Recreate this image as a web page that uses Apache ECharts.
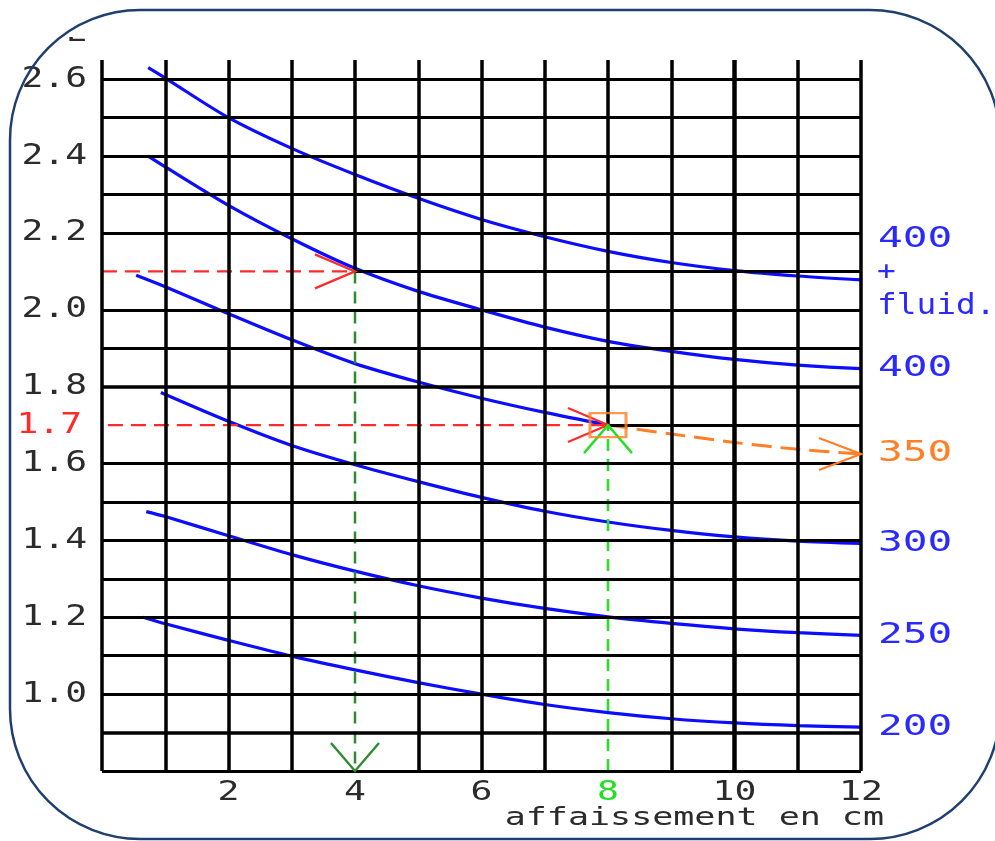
<!DOCTYPE html>
<html>
<head>
<meta charset="utf-8">
<script src="https://cdn.jsdelivr.net/npm/echarts@6/dist/echarts.min.js"></script>
<style>
html,body{margin:0;padding:0;background:#fff;}
#main{width:995px;height:841px;}
</style>
</head>
<body>
<div id="main"></div>
<script>
// ---- data ----
const xMin = 0, xMax = 12;
const yMin = 0.8, yMax = 2.65;
const gridXs = [0,1,2,3,4,5,6,7,8,9,10,11,12];
const gridYs = [0.8,0.9,1.0,1.1,1.2,1.3,1.4,1.5,1.6,1.7,1.8,1.9,2.0,2.1,2.2,2.3,2.4,2.5,2.6];
const xTickLabels = ['2','4','6','8','10','12'];
const yTickLabels = ['1.0','1.2','1.4','1.6','1.8','2.0','2.2','2.4','2.6'];
const xTitle = 'affaissement en cm';

const c400fX = [0.73,1,2,3,4,5,6,7,8,9,10,11,12];
const c400fY = [2.63,2.603,2.50,2.42,2.352,2.29,2.235,2.19,2.152,2.123,2.102,2.088,2.078];
const c400X  = [0.73,1,2,3,4,5,6,7,8,9,10,11,12];
const c400Y  = [2.40,2.372,2.272,2.185,2.108,2.048,2.0,1.955,1.918,1.892,1.871,1.856,1.847];
const c350X  = [0.54,1,2,3,4,5,6,7,8];
const c350Y  = [2.09,2.06,1.99,1.922,1.86,1.812,1.77,1.733,1.70];
const c350ExtX = [8,9,10,11,12];
const c350ExtY = [1.70,1.677,1.655,1.637,1.625];
const c300X  = [0.93,2,3,4,5,6,7,8,9,10,11,12];
const c300Y  = [1.785,1.71,1.647,1.597,1.553,1.512,1.476,1.448,1.426,1.409,1.398,1.392];
const c250X  = [0.7,1,2,3,4,5,6,7,8,9,10,11,12];
const c250Y  = [1.475,1.462,1.412,1.363,1.32,1.282,1.25,1.223,1.201,1.184,1.17,1.16,1.153];
const c200X  = [0.65,1,2,3,4,5,6,7,8,9,10,11,12];
const c200Y  = [1.20,1.183,1.14,1.099,1.063,1.03,1.0,0.973,0.952,0.936,0.925,0.918,0.914];

// reading example: read 2.1 at 4 cm, and 1.7 at 8 cm
const readA = [4, 2.1];   // red horizontal -> dark green down
const readB = [8, 1.7];   // bright green up -> red horizontal
const redStartB = -0.27;  // red dashed line at 1.7 starts left of axis
const curveLabels = ['400', '400', '350', '300', '250', '200'];

function zip(a, b){ return a.map((v,i)=>[v,b[i]]); }

// ---- grid lines as markLines ----
const gridLines = [];
gridXs.forEach(x => {
  let y0 = yMin;
  if (x === readA[0]) y0 = readA[1];
  if (x === readB[0]) y0 = readB[1];
  gridLines.push([{coord:[x,y0], lineStyle:{width: x===10 ? 4.5 : 3.5}}, {coord:[x,yMax]}]);
});
gridYs.forEach(y => {
  let x0 = xMin;
  if (Math.abs(y-readA[1])<1e-9) x0 = readA[0];
  if (Math.abs(y-readB[1])<1e-9) x0 = readB[0];
  gridLines.push([{coord:[x0,y], lineStyle:{width:(Math.abs(y-1.8)<1e-9||Math.abs(y-0.9)<1e-9)?3.6:3}}, {coord:[xMax,y]}]);
});

const BLUE = '#0c0cff', RED = '#ff2a2a', ORANGE = '#ff7f27', DGREEN = '#2e8b2e', LGREEN = '#22e022', TXT = '#2b2b2b';

function blue(name, xs, ys){
  return {type:'line', name, data: zip(xs,ys), smooth:0.3, showSymbol:false, z:3,
    lineStyle:{color:BLUE, width:3.2}, silent:true};
}
function arrow(len, half, color, width){
  return function(params, api){
    const p = api.coord([api.value(0), api.value(1)]);
    const a = api.value(2)*Math.PI/180;
    const ux = Math.cos(a), uy = Math.sin(a), nx = -uy, ny = ux;
    return {type:'polyline', shape:{points:[
      [p[0]-ux*len+nx*half, p[1]-uy*len+ny*half], p,
      [p[0]-ux*len-nx*half, p[1]-uy*len-ny*half]]},
      style:{stroke:color, lineWidth:width, fill:null}};
  };
}

const chart = echarts.init(document.getElementById('main'), null, {renderer:'canvas'});
chart.setOption({
  animation:false,
  backgroundColor:'#ffffff',
  grid:{left:102, top:60, width:759, height:711},
  xAxis:{type:'value', min:xMin, max:xMax, axisLine:{show:false}, axisTick:{show:false}, axisLabel:{show:false}, splitLine:{show:false}},
  yAxis:{type:'value', min:yMin, max:yMax, axisLine:{show:false}, axisTick:{show:false}, axisLabel:{show:false}, splitLine:{show:false}},
  series:[
    {type:'line', data:[[xMin,yMin]], showSymbol:false, lineStyle:{opacity:0}, clip:false, z:1, silent:true,
     markLine:{silent:true, symbol:['none','none'], label:{show:false}, lineStyle:{color:'#000', type:'solid', width:3}, data:gridLines}},
    blue('400 + fluid.', c400fX, c400fY),
    blue('400', c400X, c400Y),
    blue('350', c350X, c350Y),
    blue('300', c300X, c300Y),
    blue('250', c250X, c250Y),
    blue('200', c200X, c200Y),
    {type:'line', data:[[xMin,readA[1]],readA], showSymbol:false, z:4, clip:false, silent:true,
     lineStyle:{color:RED, width:2.2, type:[15,8]}},
    {type:'line', data:[[redStartB,readB[1]],readB], showSymbol:false, z:4, clip:false, silent:true,
     lineStyle:{color:RED, width:2.2, type:[15,8]}},
    {type:'line', data:[readA,[readA[0],yMin]], showSymbol:false, z:4, silent:true,
     lineStyle:{color:DGREEN, width:2.5, type:[12,8]}},
    {type:'line', data:[[readB[0],yMin],readB], showSymbol:false, z:4, silent:true,
     lineStyle:{color:LGREEN, width:2.5, type:[12,8]}},
    {type:'line', data:zip(c350ExtX,c350ExtY), smooth:0.3, showSymbol:false, z:4, silent:true,
     lineStyle:{color:ORANGE, width:3, type:[20,9]}},
    {type:'custom', renderItem:arrow(40,17,RED,2.2), clip:false, z:5, silent:true,
     data:[[readA[0],readA[1],0],[readB[0],readB[1],0]]},
    {type:'custom', renderItem:arrow(28,24,DGREEN,2.4), clip:false, z:5, silent:true,
     data:[[readA[0],yMin,90]]},
    {type:'custom', renderItem:arrow(28,24,LGREEN,2.4), clip:false, z:5, silent:true,
     data:[[readB[0],readB[1],-90]]},
    {type:'custom', renderItem:arrow(42,16,ORANGE,2.2), clip:false, z:5, silent:true,
     data:[[c350ExtX[c350ExtX.length-1], c350ExtY[c350ExtY.length-1], 0]]},
    {type:'scatter', data:[readB], symbol:'rect', symbolSize:[36,24], z:6, silent:true,
     itemStyle:{color:'rgba(255,255,255,0)', borderColor:ORANGE, borderWidth:2.5}}
  ]
});

// ---- texts positioned through the axes ----
const px = v => chart.convertToPixel({gridIndex:0}, v);
const FONT = '"DejaVu Sans Mono", monospace';
function txt(x, y, text, color, size, sx, align){
  return {type:'text', x, y, scaleX:sx, z:20, silent:true,
    style:{text, fill:color, font:size+'px '+FONT, textAlign:align||'left', textVerticalAlign:'middle'}};
}
const g = [];
const axisX = px([xMin, yMin])[0];
yTickLabels.forEach(t => { const p = px([xMin, parseFloat(t)]); g.push(txt(axisX-15, p[1], t, TXT, 29, 1.25, 'right')); });
g.push(txt(axisX-20, px([xMin, readB[1]])[1], String(readB[1]), RED, 29, 1.25, 'right'));
xTickLabels.forEach(t => { const p = px([parseFloat(t), yMin]); g.push(txt(p[0], p[1]+22, t, parseFloat(t)===readB[0]?LGREEN:TXT, 27, 1.35, 'center')); });
const xEnd = px([xMax, yMin]);
g.push(txt(xEnd[0]+23, xEnd[1]+47, xTitle, TXT, 25, 1.4, 'right'));

const ends = [[c400fX,c400fY],[c400X,c400Y],[c350ExtX,c350ExtY],[c300X,c300Y],[c250X,c250Y],[c200X,c200Y]];
ends.forEach((e,i) => {
  const n = e[0].length-1;
  const p = px([e[0][n], e[1][n]]);
  const col = i===2 ? ORANGE : '#2a2aff';
  if (i===0){
    g.push(txt(p[0]+17, p[1]-40, curveLabels[i], col, 29, 1.42, 'left'));
    g.push(txt(p[0]+16, p[1]-8, '+', col, 26, 1.2, 'left'));
    g.push(txt(p[0]+16, p[1]+27, 'fluid.', col, 29, 1.13, 'left'));
  } else {
    g.push(txt(p[0]+17, p[1], curveLabels[i], col, 29, 1.42, 'left'));
  }
});
// clipped letter at top of y axis
g.push(txt(66, 34, 'E', TXT, 27, 1.3, 'left'));
g.push({type:'rect', shape:{x:40, y:0, width:60, height:37}, style:{fill:'#fff'}, z:21, silent:true});
// rounded frame
g.push({type:'rect', shape:{x:10, y:10, width:990, height:829, r:130}, style:{fill:null, stroke:'#1f3f6f', lineWidth:2.5}, z:30, silent:true});
chart.setOption({graphic:g});
</script>
</body>
</html>
